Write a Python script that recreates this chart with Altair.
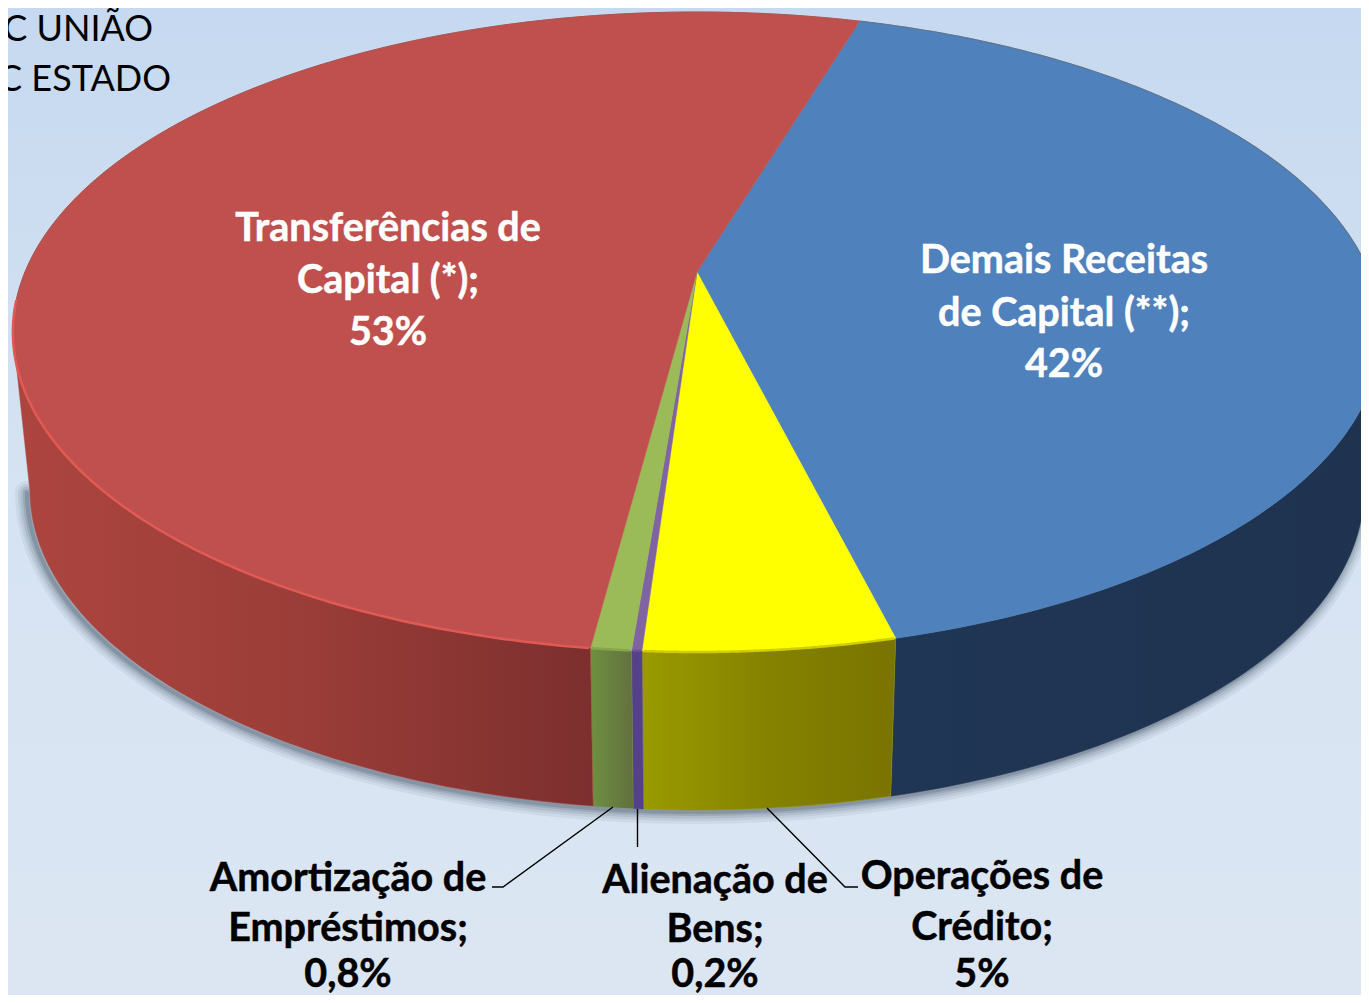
import numpy as np
import pandas as pd
import altair as alt

# ---- chart values
slices = ["Demais Receitas de Capital", "Operações de Crédito", "Alienação de Bens",
          "Amortização de Empréstimos", "Transferências de Capital"]
shares = [41.5, 4.95, 0.2, 0.8, 52.55]
top_colors = ["#4f81bd", "#ffff00", "#8064a2", "#9bbb59", "#c0504d"]
side_colors = [
    ["#1f3654", "#1f3350"],
    ["#9a9a00", "#858200", "#7a7400"],
    ["#55408a", "#55408a"],
    ["#6f9040", "#62703f"],
    ["#ad453f", "#9b3d38", "#7c2f2e"],
]
rim_colors = [None, "#cfcf00", "#6b5296", "#86a64c", "#e25a55"]
label_lines = ["Transferências de", "Capital (*);", "53%",
               "Demais Receitas", "de Capital (**);", "42%"]
label_x = [388, 388, 388, 1064, 1064, 1064]
label_y = [241, 293, 345, 273, 326, 377]
out_lines = ["Amortização de", "Empréstimos;", "0,8%",
             "Alienação de", "Bens;", "0,2%",
             "Operações de", "Crédito;", "5%"]
out_x = [348, 348, 348, 715, 715, 715, 982, 982, 982]
out_y = [891, 941, 987, 893, 942, 987, 889, 940, 987]
corner_lines = ["AC UNIÃO", "AC ESTADO"]
corner_x = [153, 171]
corner_y = [41, 91]
leaders = [[(613, 807), (503, 887), (492, 887)],
           [(637.5, 809), (637.5, 847)],
           [(767, 808), (845, 887), (858, 887)]]

# ---- the tilted disc: a perspective view of a circle
W, H = 1353, 987
CX, CY, A, B, K = 697, 272, 672, 308.75, 0.1875
DROP, SHRINK = 158, 0.975
START = 16.6
LEFT_TURN, RIGHT_TURN = 259, 101


def rim(deg):
    t = np.radians(deg)
    u, v = np.sin(t), -np.cos(t)
    d = 1 - K * v
    return CX + A * u / d, CY + B * v / d


def low(deg):
    x, y = rim(deg)
    return CX + (x - CX) * SHRINK, y + DROP


xs = alt.X("x:Q", scale=alt.Scale(domain=[8, 8 + W], nice=False, zero=False), axis=None)
ys = alt.Y("y:Q", scale=alt.Scale(domain=[8 + H, 8], nice=False, zero=False), axis=None)


def poly(px, py):
    return pd.DataFrame({"x": px, "y": py, "i": np.arange(len(px))})


def shape(df, **mark):
    return alt.Chart(df).mark_line(clip=True, **mark).encode(x=xs, y=ys, order="i:Q")


def grad(stops):
    n = len(stops) - 1
    return alt.Gradient(gradient="linear", x1=0, x2=1, y1=0, y2=0,
                        stops=[alt.GradientStop(color=c, offset=j / n) for j, c in enumerate(stops)])


edges = START + np.concatenate([[0], np.cumsum(shares)]) * 3.6

layers = []
bg = alt.Chart(pd.DataFrame({"k": [0]})).mark_rect(
    fill=alt.Gradient(gradient="linear", x1=0, x2=0, y1=0, y2=1,
                      stops=[alt.GradientStop(color="#c6d9f0", offset=0),
                             alt.GradientStop(color="#d6e3f2", offset=0.5),
                             alt.GradientStop(color="#dce6f3", offset=1)])
).encode(x=alt.value(0), x2=alt.value(W), y=alt.value(0), y2=alt.value(H))
layers.append(bg)

# soft shadow under the lower edge
sa = np.linspace(RIGHT_TURN, LEFT_TURN, 140)
sx, sy = low(sa)
for w, o in [(24, 0.07), (18, 0.09), (13, 0.12), (8, 0.16), (4, 0.22)]:
    layers.append(shape(poly(sx - 3, sy + 2), stroke="#3a4a5e", strokeWidth=w, opacity=o, strokeCap="round"))

# sides
for a0, a1, cs in zip(edges[:-1], edges[1:], side_colors):
    ang = np.linspace(max(a0, RIGHT_TURN), min(a1, LEFT_TURN), 90)
    x1, y1 = rim(ang)
    x2, y2 = low(ang[::-1])
    px, py = np.r_[x1, x2, x1[0]], np.r_[y1, y2, y1[0]]
    layers.append(shape(poly(px, py), fill=grad(cs), stroke=cs[0], strokeWidth=0.5))

# top surface
for a0, a1, c in zip(edges[:-1], edges[1:], top_colors):
    ang = np.linspace(a0, a1, 200)
    x1, y1 = rim(ang)
    px, py = np.r_[CX, x1, CX], np.r_[CY, y1, CY]
    layers.append(shape(poly(px, py), fill=c, stroke=c, strokeWidth=0.5))

# soft rim on the front of the disc
for a0, a1, c in zip(edges[:-1], edges[1:], rim_colors):
    if c is None:
        continue
    ha = np.linspace(a0 + 0.1, min(a1, LEFT_TURN + 6) - 0.1, 120)
    hx, hy = rim(ha)
    layers.append(shape(poly(hx, hy), stroke=c, strokeWidth=2.5))
# thin darker edge at the back
ba = np.linspace(START, 90, 120)
bx, by = rim(ba)
layers.append(shape(poly(bx, by), stroke="#5f7590", strokeWidth=1.2))
ra = np.linspace(LEFT_TURN + 6, 360 + START, 200)
rx, ry = rim(ra)
layers.append(shape(poly(rx, ry), stroke="#a8544f", strokeWidth=1))

# leader lines
for seg in leaders:
    layers.append(shape(poly([p[0] for p in seg], [p[1] for p in seg]),
                        stroke="#000000", strokeWidth=1.4))

FONT = "Lato"
layers.append(alt.Chart(pd.DataFrame({"x": label_x, "y": label_y, "t": label_lines}))
              .mark_text(font=FONT, fontWeight="bold", fontSize=39.5, color="white", align="center",
                         baseline="alphabetic", stroke="white", strokeWidth=0.5)
              .encode(x=xs, y=ys, text="t:N"))
layers.append(alt.Chart(pd.DataFrame({"x": out_x, "y": out_y, "t": out_lines}))
              .mark_text(font=FONT, fontWeight="bold", fontSize=39.5, color="black", align="center",
                         baseline="alphabetic", stroke="black", strokeWidth=0.5)
              .encode(x=xs, y=ys, text="t:N"))
layers.append(alt.Chart(pd.DataFrame({"x": corner_x, "y": corner_y, "t": corner_lines}))
              .mark_text(font=FONT, fontSize=36, color="black", align="right", baseline="alphabetic", clip=True)
              .encode(x=xs, y=ys, text="t:N"))

chart = alt.layer(*layers).properties(
    width=W, height=H, padding=0, autosize=alt.AutoSizeParams(type="none")
).configure_view(stroke=None)
chart.save("out.html", embed_options={"renderer": "svg", "actions": False})
